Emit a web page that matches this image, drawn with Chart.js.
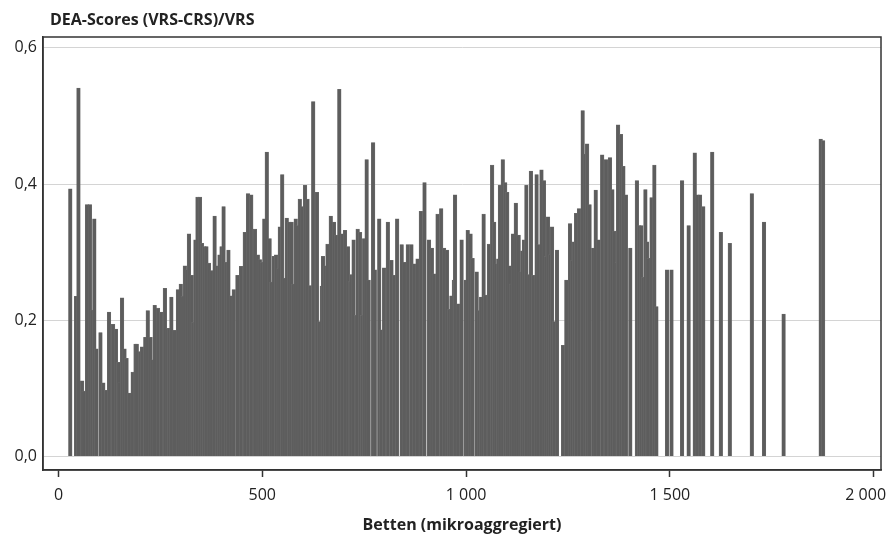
<!DOCTYPE html>
<html>
<head>
<meta charset="utf-8">
<script src="https://cdn.jsdelivr.net/npm/chart.js@4.4.1/dist/chart.umd.min.js"></script>
<style>
  html, body { margin: 0; padding: 0; background: #fff; }
  #wrap { position: relative; width: 890px; height: 537px; }
  #title { position: absolute; left: 50px; top: 8px; font: bold 16px "Open Sans", sans-serif; color: #222; }
</style>
</head>
<body>
<div id="wrap">
  <div id="title">DEA-Scores (VRS-CRS)/VRS</div>
  <canvas id="chartContainer" width="890" height="537"></canvas>
</div>
<script>
// Betten (mikroaggregiert) je Krankenhaus
var betten = [29,43,49,58,62,70,77,82,88,93,103,110,117,124,134,141,147,150,156,162,167,174,182,189,192,200,205,213,219,226,
  231,236,244,252,261,268,272,277,285,293,300,305,310,315,320,327,331,336,341,347,352,358,363,369,376,383,389,395,400,405,
  412,417,423,430,439,448,457,465,473,482,489,494,499,505,511,518,522,528,534,540,543,549,555,560,566,572,576,582,587,592,
  599,605,611,617,625,634,640,646,649,655,660,668,676,681,689,697,703,710,716,719,724,730,734,740,745,750,756,761,772,776,
  787,792,799,808,817,824,831,842,849,857,866,873,881,889,898,909,916,921,930,939,946,953,959,964,970,973,980,989,999,1004,
  1011,1016,1026,1033,1037,1043,1047,1056,1064,1069,1075,1079,1083,1090,1096,1101,1107,1111,1115,1122,1129,1134,1138,1142,1148,1154,1159,1165,1173,1178,
  1185,1191,1196,1201,1206,1211,1216,1223,1238,1246,1255,1261,1265,1270,1277,1286,1293,1297,1303,1312,1318,1325,1334,1343,1353,1359,1363,1370,1373,1380,
  1386,1392,1403,1419,1425,1430,1435,1440,1444,1448,1455,1462,1467,1493,1504,1530,1546,1561,1568,1574,1582,1604,1625,1647,1701,1731,1779,1870,1876];

// DEA-Scores (VRS-CRS)/VRS
var scores = [.393,.235,.541,.111,.096,.370,.370,.215,.349,.158,.182,.108,.097,.212,.194,.187,.138,.108,.233,.158,.144,.093,.124,.165,.165,.154,.161,.175,.214,.175,
  .142,.222,.218,.212,.247,.188,.188,.234,.185,.245,.253,.235,.280,.274,.327,.266,.197,.318,.381,.381,.313,.308,.308,.284,.273,.353,.280,.296,.308,.367,
  .285,.303,.236,.245,.266,.279,.329,.386,.384,.334,.296,.289,.285,.349,.447,.320,.256,.294,.296,.276,.337,.414,.262,.350,.344,.344,.253,.349,.339,.378,
  .367,.398,.378,.251,.521,.388,.198,.250,.294,.280,.312,.353,.344,.325,.539,.327,.332,.308,.257,.267,.318,.207,.334,.329,.207,.320,.436,.259,.461,.274,
  .349,.186,.277,.344,.288,.266,.349,.311,.285,.311,.311,.283,.290,.360,.402,.318,.306,.268,.356,.364,.306,.303,.216,.236,.259,.384,.224,.318,.259,.332,
  .327,.291,.271,.214,.234,.356,.237,.312,.428,.344,.283,.290,.398,.436,.402,.388,.280,.253,.327,.372,.325,.271,.302,.318,.398,.267,.419,.266,.414,.311,
  .421,.405,.294,.352,.296,.337,.198,.303,.163,.259,.342,.288,.315,.357,.364,.508,.444,.459,.370,.306,.391,.318,.443,.436,.439,.392,.331,.285,.487,.473,
  .426,.384,.306,.405,.339,.339,.263,.392,.315,.291,.380,.428,.220,.274,.274,.405,.339,.446,.384,.384,.367,.447,.329,.313,.386,.344,.209,.466,.464];

var xTicks = [0, 500, 1000, 1500, 2000];
// letzter Wert rückt nach links, damit er im Bild bleibt
var xTickLabels = ['0', '500', '1 000', '1 500', '2 000\u2003'];
var yTicks = [0, 0.2, 0.4, 0.6];
var yTickLabels = ['0,0', '0,2', '0,4', '0,6'];

var tickFont = { family: 'Open Sans', size: 16 };

// Rahmen um die Zeichenfläche
var frame = {
  id: 'frame',
  afterDatasetsDraw: function (chart) {
    var a = chart.chartArea, c = chart.ctx;
    c.save();
    c.strokeStyle = '#333';
    c.lineWidth = 1.5;
    c.strokeRect(a.left, a.top, a.right - a.left, a.bottom - a.top);
    c.restore();
  }
};

var ctx = document.getElementById('chartContainer').getContext('2d');
var chart = new Chart(ctx, {
  type: 'bar',
  data: {
    datasets: [{
      label: 'DEA-Scores',
      data: betten.map(function (b, i) { return { x: b, y: scores[i] }; }),
      backgroundColor: '#5d5d5d',
      borderColor: '#707070',
      borderWidth: 0.5,
      barThickness: 3.6
    }]
  },
  options: {
    responsive: false,
    animation: false,
    layout: { padding: { left: 0, right: 9, top: 37, bottom: 0 } },
    plugins: { legend: { display: false }, tooltip: { enabled: false } },
    scales: {
      x: {
        type: 'linear',
        min: -38,
        max: 2018,
        offset: false,
        afterBuildTicks: function (a) { a.ticks = xTicks.map(function (v) { return { value: v }; }); },
        afterFit: function (a) { a.height = 67; a.paddingLeft = 0; a.paddingRight = 0; },
        ticks: {
          autoSkip: false, maxRotation: 0, padding: 9, color: '#222', font: tickFont,
          callback: function (v) { return xTickLabels[xTicks.indexOf(v)]; }
        },
        grid: { offset: false, drawOnChartArea: false, drawTicks: true, tickLength: 7, tickColor: '#333', tickWidth: 1.5 },
        border: { display: true, color: '#333', width: 1.5 },
        title: {
          display: true, text: 'Betten (mikroaggregiert)', color: '#222',
          font: { family: 'Open Sans', size: 16, weight: 'bold' }, padding: { top: 0, bottom: 2 }
        }
      },
      y: {
        min: -0.02,
        max: 0.616,
        afterBuildTicks: function (a) { a.ticks = yTicks.map(function (v) { return { value: v }; }); },
        afterFit: function (a) { a.width = 43; a.paddingTop = 0; a.paddingBottom = 0; },
        ticks: {
          padding: 6, color: '#222', font: tickFont,
          callback: function (v) { return yTickLabels[yTicks.indexOf(v)]; }
        },
        grid: { color: '#d4d4d4', lineWidth: 1, drawTicks: false },
        border: { display: true, color: '#333', width: 1.5 }
      }
    }
  },
  plugins: [frame]
});
</script>
</body>
</html>
